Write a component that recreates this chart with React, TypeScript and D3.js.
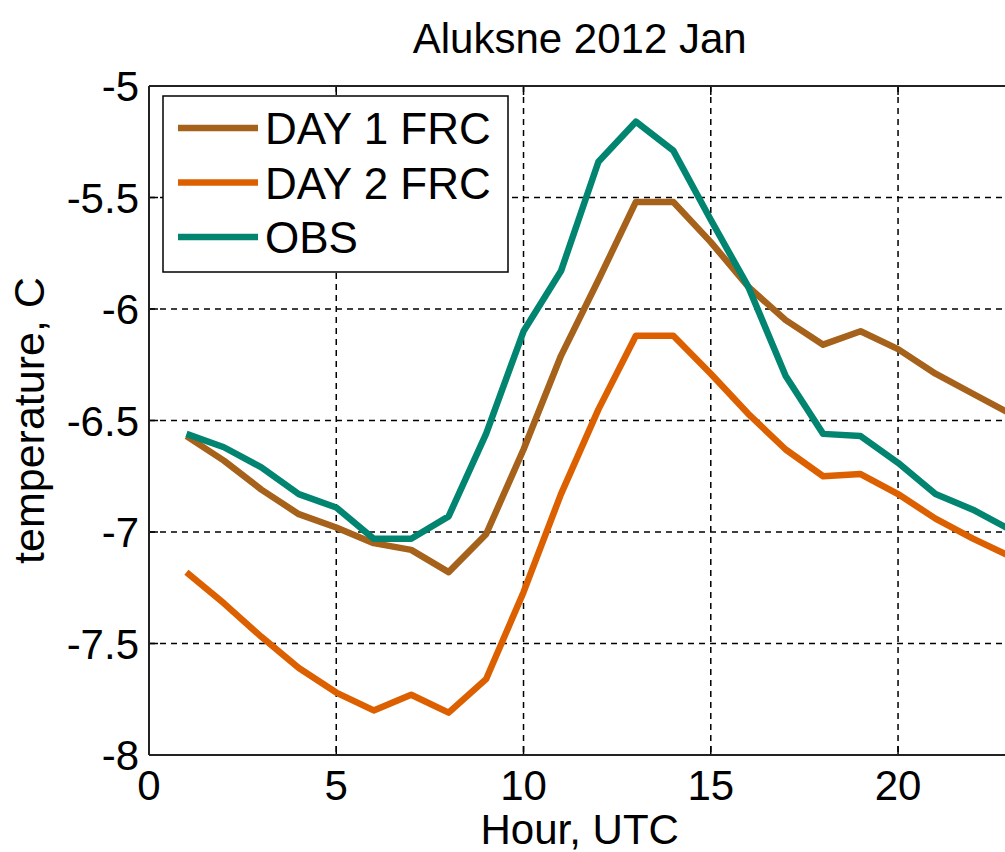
import React from "react";
import * as d3 from "d3";

const hours = [1, 2, 3, 4, 5, 6, 7, 8, 9, 10, 11, 12, 13, 14, 15, 16, 17, 18, 19, 20, 21, 22, 23];
const day1Frc = [-6.57, -6.68, -6.81, -6.92, -6.98, -7.05, -7.08, -7.18, -7.01, -6.63, -6.21, -5.87, -5.52, -5.52, -5.70, -5.90, -6.05, -6.16, -6.10, -6.18, -6.29, -6.38, -6.47];
const day2Frc = [-7.18, -7.32, -7.47, -7.61, -7.72, -7.80, -7.73, -7.81, -7.66, -7.27, -6.83, -6.45, -6.12, -6.12, -6.29, -6.47, -6.63, -6.75, -6.74, -6.83, -6.94, -7.03, -7.11];
const obs = [-6.56, -6.62, -6.71, -6.83, -6.89, -7.03, -7.03, -6.93, -6.56, -6.10, -5.83, -5.34, -5.16, -5.29, -5.60, -5.90, -6.30, -6.56, -6.57, -6.69, -6.83, -6.90, -6.99];

const seriesNames = ["DAY 1 FRC", "DAY 2 FRC", "OBS"];
const seriesColors = ["#A6611A", "#DD6000", "#018571"];
const xTicks = [0, 5, 10, 15, 20];
const yTicks = [-5, -5.5, -6, -6.5, -7, -7.5, -8];
const title = "Aluksne 2012 Jan";
const xLabel = "Hour, UTC";
const yLabel = "temperature, C";

const W = 1005;
const H = 852;
const left = 149;
const right = 1010.4;
const top = 86;
const bottom = 755;
const FONT = "'Liberation Sans', Arial, Helvetica, sans-serif";

export default function App() {
  const x = d3.scaleLinear().domain([0, 23]).range([left, right]);
  const y = d3.scaleLinear().domain([-8, -5]).range([bottom, top]);
  const line = d3
    .line<number>()
    .x((_, i) => x(hours[i]))
    .y((d) => y(d));
  const allSeries = [day1Frc, day2Frc, obs];
  const tickLen = 9;

  return (
    <svg
      width={W}
      height={H}
      style={{ position: "absolute", left: 0, top: 0, background: "#fff" }}
      fontFamily={FONT}
    >
      <rect x={0} y={0} width={W} height={H} fill="#fff" />
      <defs>
        <clipPath id="plotClip">
          <rect x={left} y={top} width={right - left} height={bottom - top} />
        </clipPath>
      </defs>
      {/* grid */}
      <g stroke="#000" strokeWidth={1.5} strokeDasharray="6,5">
        {xTicks.slice(1).map((t) => (
          <line key={"gx" + t} x1={x(t)} x2={x(t)} y1={top} y2={bottom} />
        ))}
        {yTicks.slice(1, -1).map((t) => (
          <line key={"gy" + t} x1={left} x2={right} y1={y(t)} y2={y(t)} />
        ))}
      </g>
      {/* ticks (inward) */}
      <g stroke="#000" strokeWidth={1.5}>
        {xTicks.map((t) => (
          <g key={"tx" + t}>
            <line x1={x(t)} x2={x(t)} y1={bottom} y2={bottom - tickLen} />
            <line x1={x(t)} x2={x(t)} y1={top} y2={top + tickLen} />
          </g>
        ))}
        {yTicks.map((t) => (
          <line key={"ty" + t} x1={left} x2={left + tickLen} y1={y(t)} y2={y(t)} />
        ))}
      </g>
      {/* data lines */}
      <g clipPath="url(#plotClip)">
        {allSeries.map((s, i) => (
          <path
            key={seriesNames[i]}
            d={line(s) || ""}
            fill="none"
            stroke={seriesColors[i]}
            strokeWidth={6.5}
            strokeLinejoin="round"
          />
        ))}
      </g>
      {/* axes box */}
      <g stroke="#222" strokeWidth={2} fill="none">
        <line x1={left} x2={left} y1={top} y2={bottom} />
        <line x1={left} x2={right} y1={bottom} y2={bottom} />
        <line x1={left} x2={right} y1={top} y2={top} />
      </g>
      {/* tick labels */}
      <g fontSize={42} fill="#000">
        {xTicks.map((t) => (
          <text key={"lx" + t} x={x(t)} y={800} textAnchor="middle">
            {String(t)}
          </text>
        ))}
        {yTicks.map((t) => (
          <text key={"ly" + t} x={139} y={y(t) + 15} textAnchor="end">
            {String(t)}
          </text>
        ))}
      </g>
      {/* title and labels */}
      <text x={(left + right) / 2} y={53} textAnchor="middle" fontSize={42} fill="#000">
        {title}
      </text>
      <text x={(left + right) / 2} y={844} textAnchor="middle" fontSize={42} fill="#000">
        {xLabel}
      </text>
      <text
        transform={`translate(44,${(top + bottom) / 2}) rotate(-90)`}
        textAnchor="middle"
        fontSize={43}
        fill="#000"
      >
        {yLabel}
      </text>
      {/* legend */}
      <g>
        <rect x={163} y={96} width={345} height={176} fill="#fff" stroke="#000" strokeWidth={1.5} />
        {seriesNames.map((n, i) => {
          const ly = 128 + i * 54.5;
          return (
            <g key={"leg" + n}>
              <line x1={178} x2={258} y1={ly} y2={ly} stroke={seriesColors[i]} strokeWidth={6.5} />
              <text x={265} y={ly + 16} fontSize={44} fill="#000">
                {n}
              </text>
            </g>
          );
        })}
      </g>
    </svg>
  );
}
